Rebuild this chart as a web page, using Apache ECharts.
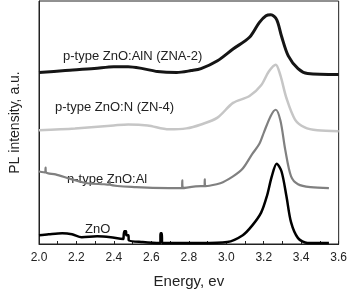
<!DOCTYPE html>
<html>
<head>
<meta charset="utf-8">
<script src="https://cdn.jsdelivr.net/npm/echarts@6/dist/echarts.min.js"></script>
<style>
  html, body { margin: 0; padding: 0; background: #fff; }
  #main { width: 350px; height: 294px; }
</style>
</head>
<body>
<div id="main"></div>
<script>
// energy (eV) / PL intensity (a.u.)
const zna2 = [
  [2.000, 175], [2.140, 177], [2.295, 179], [2.399, 181], [2.476, 181],
  [2.554, 179], [2.632, 176], [2.735, 175], [2.813, 177], [2.865, 179],
  [2.953, 187], [3.036, 199], [3.124, 211], [3.176, 226], [3.212, 233],
  [3.238, 234], [3.269, 229], [3.295, 212], [3.331, 192], [3.383, 179],
  [3.434, 174], [3.600, 173]
]
const zn4 = [
  [2.000, 116], [2.192, 118], [2.399, 121], [2.476, 122], [2.580, 121],
  [2.694, 117], [2.787, 118], [2.865, 122], [2.953, 129], [3.036, 144],
  [3.124, 151], [3.186, 162], [3.227, 176], [3.264, 183], [3.289, 172],
  [3.321, 149], [3.367, 127], [3.419, 119], [3.486, 116], [3.600, 115]
]
const znoAl = [
  [2.000, 74], [2.034, 73], [2.035, 78], [2.037, 78], [2.038, 73],
  [2.088, 71], [2.176, 66], [2.259, 62], [2.347, 61],
  [2.376, 60.5], [2.377, 64], [2.379, 64], [2.380, 60.5],
  [2.518, 58], [2.694, 57],
  [2.764, 57], [2.765, 65], [2.767, 65], [2.768, 57],
  [2.865, 59],
  [2.884, 59], [2.885, 66], [2.887, 66], [2.888, 59],
  [2.968, 62], [3.036, 69], [3.088, 77], [3.139, 92], [3.176, 102],
  [3.201, 114], [3.238, 131], [3.264, 137], [3.289, 126], [3.315, 96],
  [3.346, 69], [3.383, 61], [3.450, 58], [3.548, 57]
]
const zno = [
  [2.000, 9], [2.052, 10], [2.124, 11], [2.176, 10], [2.228, 7],
  [2.311, 8], [2.383, 7], [2.451, 5],
  [2.454, 5], [2.455, 13], [2.465, 13], [2.466, 9], [2.478, 9], [2.479, 4],
  [2.554, 2],
  [2.648, 1], [2.649, 11], [2.656, 11], [2.657, 1],
  [2.865, 1], [3.005, 2], [3.088, 9], [3.139, 19], [3.186, 32],
  [3.217, 49], [3.243, 69], [3.269, 82], [3.295, 74], [3.321, 49],
  [3.346, 22], [3.383, 6], [3.434, 1], [3.548, 1]
]
const curveLabels = [
  { text: 'p-type ZnO:AlN (ZNA-2)', x: 63, y: 57 },
  { text: 'p-type ZnO:N (ZN-4)', x: 55, y: 108 },
  { text: 'n-type ZnO:Al', x: 67, y: 180 },
  { text: 'ZnO', x: 85, y: 230 }
]

const myChart = echarts.init(document.getElementById('main'), null, { renderer: 'canvas' })

const font = 'Liberation Sans, Arial, sans-serif'

function line (data, color, width) {
  return {
    type: 'line',
    data: data,
    showSymbol: false,
    smooth: 0.3,
    lineStyle: { color: color, width: width },
    animation: false
  }
}

const option = {
  animation: false,
  grid: {
    left: 33,
    right: 8,
    top: 1,
    bottom: 45,
    show: true,
    borderColor: '#222',
    borderWidth: 1
  },
  xAxis: {
    type: 'value',
    min: 2.0,
    max: 3.6,
    interval: 0.1,
    name: 'Energy, ev',
    nameLocation: 'middle',
    nameGap: 30,
    nameTextStyle: { fontFamily: font, fontSize: 15, color: '#222' },
    axisLine: { lineStyle: { color: '#222', width: 1 } },
    axisTick: { inside: true, length: 3, lineStyle: { color: '#222' } },
    axisLabel: {
      fontFamily: font,
      fontSize: 12,
      color: '#222',
      margin: 8,
      formatter: v => (Math.round(v * 10) % 2 === 0 ? v.toFixed(1) : '')
    },
    splitLine: { show: false }
  },
  yAxis: {
    type: 'value',
    min: 0,
    max: 248,
    name: 'PL intensity, a.u.',
    nameLocation: 'middle',
    nameGap: 17,
    nameTextStyle: { fontFamily: font, fontSize: 14, color: '#222' },
    axisLine: { show: true, lineStyle: { color: '#222', width: 1 } },
    axisTick: { show: false },
    axisLabel: { show: false },
    splitLine: { show: false }
  },
  series: [
    line(zna2, '#151515', 3),
    line(zn4, '#c6c6c6', 2.5),
    line(znoAl, '#808080', 2.2),
    line(zno, '#000000', 2.5)
  ],
  graphic: curveLabels.map(l => ({
    type: 'text',
    left: l.x,
    top: l.y - 7.5,
    style: { text: l.text, font: '13px ' + font, fill: '#222' }
  }))
}

myChart.setOption(option)
</script>
</body>
</html>
